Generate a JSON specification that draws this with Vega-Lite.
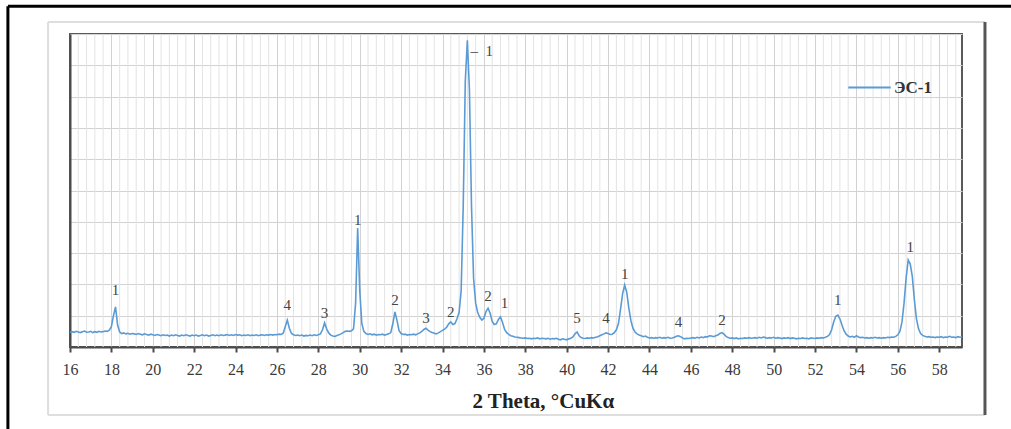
{
  "$schema": "https://vega.github.io/schema/vega-lite/v6.json",
  "autosize": {"type": "none"},
  "width": 892,
  "height": 313,
  "padding": {"left": 70, "top": 34, "right": 49, "bottom": 82},
  "background": "white",
  "config": {
    "view": {"stroke": "#5a5a5a", "strokeWidth": 2},
    "font": "Liberation Serif"
  },
  "datasets": {
    "xrd": [
      {"x":16.0,"y":4.6},{"x":16.1,"y":4.9},{"x":16.2,"y":4.7},{"x":16.3,"y":5.0},{"x":16.4,"y":4.8},{"x":16.5,"y":4.6},{"x":16.6,"y":4.9},{"x":16.7,"y":5.1},{"x":16.8,"y":4.7},{"x":16.9,"y":4.8},
      {"x":17.0,"y":5.0},{"x":17.1,"y":4.6},{"x":17.2,"y":4.9},{"x":17.3,"y":4.7},{"x":17.4,"y":5.0},{"x":17.5,"y":4.8},{"x":17.6,"y":4.9},{"x":17.7,"y":5.1},{"x":17.8,"y":5.0},{"x":17.9,"y":5.4},
      {"x":18.0,"y":6.5},{"x":18.1,"y":10.0},{"x":18.2,"y":12.8},{"x":18.3,"y":7.0},{"x":18.4,"y":4.8},{"x":18.5,"y":4.3},{"x":18.6,"y":4.5},{"x":18.7,"y":4.2},{"x":18.8,"y":4.4},{"x":18.9,"y":4.1},
      {"x":19.0,"y":4.3},{"x":19.1,"y":4.2},{"x":19.2,"y":4.0},{"x":19.3,"y":4.3},{"x":19.4,"y":4.1},{"x":19.5,"y":3.9},{"x":19.6,"y":4.2},{"x":19.7,"y":4.0},{"x":19.8,"y":3.8},{"x":19.9,"y":4.1},
      {"x":20.0,"y":3.9},{"x":20.1,"y":3.7},{"x":20.2,"y":4.0},{"x":20.3,"y":3.8},{"x":20.4,"y":3.6},{"x":20.5,"y":3.9},{"x":20.6,"y":3.7},{"x":20.7,"y":3.8},{"x":20.8,"y":3.5},{"x":20.9,"y":3.8},
      {"x":21.0,"y":3.6},{"x":21.1,"y":3.9},{"x":21.2,"y":3.7},{"x":21.3,"y":3.5},{"x":21.4,"y":3.8},{"x":21.5,"y":3.6},{"x":21.6,"y":3.9},{"x":21.7,"y":3.7},{"x":21.8,"y":3.5},{"x":21.9,"y":3.8},
      {"x":22.0,"y":3.6},{"x":22.1,"y":3.8},{"x":22.2,"y":3.5},{"x":22.3,"y":3.7},{"x":22.4,"y":3.9},{"x":22.5,"y":3.6},{"x":22.6,"y":3.8},{"x":22.7,"y":3.5},{"x":22.8,"y":3.7},{"x":22.9,"y":3.9},
      {"x":23.0,"y":3.6},{"x":23.1,"y":3.8},{"x":23.2,"y":3.6},{"x":23.3,"y":3.9},{"x":23.4,"y":3.7},{"x":23.5,"y":3.8},{"x":23.6,"y":4.0},{"x":23.7,"y":3.7},{"x":23.8,"y":3.9},{"x":23.9,"y":3.7},
      {"x":24.0,"y":4.0},{"x":24.1,"y":3.8},{"x":24.2,"y":3.9},{"x":24.3,"y":3.6},{"x":24.4,"y":3.8},{"x":24.5,"y":3.7},{"x":24.6,"y":3.9},{"x":24.7,"y":3.6},{"x":24.8,"y":3.8},{"x":24.9,"y":3.7},
      {"x":25.0,"y":3.9},{"x":25.1,"y":3.6},{"x":25.2,"y":3.8},{"x":25.3,"y":3.9},{"x":25.4,"y":3.7},{"x":25.5,"y":3.9},{"x":25.6,"y":3.8},{"x":25.7,"y":4.0},{"x":25.8,"y":3.8},{"x":25.9,"y":4.0},
      {"x":26.0,"y":3.9},{"x":26.1,"y":4.1},{"x":26.2,"y":4.0},{"x":26.3,"y":4.4},{"x":26.4,"y":6.5},{"x":26.5,"y":8.6},{"x":26.6,"y":6.0},{"x":26.7,"y":4.3},{"x":26.8,"y":3.9},{"x":26.9,"y":3.7},
      {"x":27.0,"y":3.8},{"x":27.1,"y":3.6},{"x":27.2,"y":3.8},{"x":27.3,"y":3.5},{"x":27.4,"y":3.7},{"x":27.5,"y":3.6},{"x":27.6,"y":3.8},{"x":27.7,"y":3.6},{"x":27.8,"y":3.9},{"x":27.9,"y":3.7},
      {"x":28.0,"y":3.9},{"x":28.1,"y":4.2},{"x":28.2,"y":5.5},{"x":28.3,"y":7.7},{"x":28.4,"y":5.8},{"x":28.5,"y":4.5},{"x":28.6,"y":3.8},{"x":28.7,"y":3.5},{"x":28.8,"y":3.4},{"x":28.9,"y":3.7},
      {"x":29.0,"y":3.9},{"x":29.1,"y":4.2},{"x":29.2,"y":4.6},{"x":29.3,"y":5.0},{"x":29.4,"y":5.1},{"x":29.5,"y":5.0},{"x":29.6,"y":5.2},{"x":29.7,"y":5.8},{"x":29.8,"y":14.0},{"x":29.9,"y":38.0},
      {"x":30.0,"y":18.0},{"x":30.1,"y":7.5},{"x":30.2,"y":5.0},{"x":30.3,"y":4.3},{"x":30.4,"y":4.0},{"x":30.5,"y":4.2},{"x":30.6,"y":3.9},{"x":30.7,"y":4.1},{"x":30.8,"y":3.8},{"x":30.9,"y":4.0},
      {"x":31.0,"y":3.9},{"x":31.1,"y":4.1},{"x":31.2,"y":3.8},{"x":31.3,"y":4.0},{"x":31.4,"y":4.2},{"x":31.5,"y":4.6},{"x":31.6,"y":7.5},{"x":31.7,"y":11.2},{"x":31.8,"y":8.5},{"x":31.9,"y":5.2},
      {"x":32.0,"y":4.3},{"x":32.1,"y":4.0},{"x":32.2,"y":4.1},{"x":32.3,"y":3.8},{"x":32.4,"y":4.0},{"x":32.5,"y":3.9},{"x":32.6,"y":4.1},{"x":32.7,"y":3.9},{"x":32.8,"y":4.2},{"x":32.9,"y":4.5},
      {"x":33.0,"y":5.0},{"x":33.1,"y":5.6},{"x":33.2,"y":6.0},{"x":33.3,"y":5.4},{"x":33.4,"y":4.9},{"x":33.5,"y":4.6},{"x":33.6,"y":4.4},{"x":33.7,"y":4.2},{"x":33.8,"y":4.5},{"x":33.9,"y":4.9},
      {"x":34.0,"y":5.3},{"x":34.1,"y":5.7},{"x":34.2,"y":6.3},{"x":34.3,"y":7.4},{"x":34.4,"y":8.0},{"x":34.5,"y":7.2},{"x":34.6,"y":7.5},{"x":34.7,"y":9.0},{"x":34.8,"y":11.0},{"x":34.9,"y":18.0},
      {"x":35.0,"y":45.0},{"x":35.1,"y":85.0},{"x":35.2,"y":98.0},{"x":35.3,"y":82.0},{"x":35.4,"y":45.0},{"x":35.5,"y":22.0},{"x":35.6,"y":14.0},{"x":35.7,"y":11.0},{"x":35.8,"y":9.5},{"x":35.9,"y":8.6},
      {"x":36.0,"y":9.2},{"x":36.1,"y":11.3},{"x":36.2,"y":12.4},{"x":36.3,"y":10.8},{"x":36.4,"y":8.2},{"x":36.5,"y":7.2},{"x":36.6,"y":7.4},{"x":36.7,"y":8.8},{"x":36.8,"y":9.6},{"x":36.9,"y":7.8},
      {"x":37.0,"y":5.6},{"x":37.1,"y":4.6},{"x":37.2,"y":4.0},{"x":37.3,"y":3.6},{"x":37.4,"y":3.4},{"x":37.5,"y":3.2},{"x":37.6,"y":3.1},{"x":37.7,"y":3.0},{"x":37.8,"y":2.9},{"x":37.9,"y":2.8},
      {"x":38.0,"y":2.9},{"x":38.1,"y":2.7},{"x":38.2,"y":2.8},{"x":38.3,"y":2.6},{"x":38.4,"y":2.8},{"x":38.5,"y":2.7},{"x":38.6,"y":2.9},{"x":38.7,"y":2.6},{"x":38.8,"y":2.8},{"x":38.9,"y":2.7},
      {"x":39.0,"y":2.6},{"x":39.1,"y":2.8},{"x":39.2,"y":2.5},{"x":39.3,"y":2.7},{"x":39.4,"y":2.6},{"x":39.5,"y":2.8},{"x":39.6,"y":2.5},{"x":39.7,"y":2.3},{"x":39.8,"y":2.6},{"x":39.9,"y":2.5},
      {"x":40.0,"y":2.3},{"x":40.1,"y":2.6},{"x":40.2,"y":2.8},{"x":40.3,"y":3.2},{"x":40.4,"y":4.2},{"x":40.5,"y":4.8},{"x":40.6,"y":3.6},{"x":40.7,"y":3.0},{"x":40.8,"y":2.8},{"x":40.9,"y":2.7},
      {"x":41.0,"y":2.9},{"x":41.1,"y":2.8},{"x":41.2,"y":3.0},{"x":41.3,"y":2.9},{"x":41.4,"y":3.1},{"x":41.5,"y":3.3},{"x":41.6,"y":3.6},{"x":41.7,"y":3.9},{"x":41.8,"y":4.2},{"x":41.9,"y":4.5},
      {"x":42.0,"y":4.3},{"x":42.1,"y":4.0},{"x":42.2,"y":4.1},{"x":42.3,"y":4.6},{"x":42.4,"y":5.5},{"x":42.5,"y":7.5},{"x":42.6,"y":12.0},{"x":42.7,"y":17.0},{"x":42.8,"y":19.8},{"x":42.9,"y":17.5},
      {"x":43.0,"y":12.5},{"x":43.1,"y":8.5},{"x":43.2,"y":6.0},{"x":43.3,"y":4.8},{"x":43.4,"y":4.2},{"x":43.5,"y":3.8},{"x":43.6,"y":3.6},{"x":43.7,"y":3.3},{"x":43.8,"y":3.5},{"x":43.9,"y":3.1},
      {"x":44.0,"y":2.9},{"x":44.1,"y":3.0},{"x":44.2,"y":2.8},{"x":44.3,"y":3.0},{"x":44.4,"y":2.9},{"x":44.5,"y":3.1},{"x":44.6,"y":2.8},{"x":44.7,"y":3.0},{"x":44.8,"y":2.9},{"x":44.9,"y":3.1},
      {"x":45.0,"y":2.8},{"x":45.1,"y":2.9},{"x":45.2,"y":3.1},{"x":45.3,"y":3.4},{"x":45.4,"y":3.6},{"x":45.5,"y":3.3},{"x":45.6,"y":2.9},{"x":45.7,"y":2.6},{"x":45.8,"y":2.8},{"x":45.9,"y":2.7},
      {"x":46.0,"y":2.9},{"x":46.1,"y":3.0},{"x":46.2,"y":2.8},{"x":46.3,"y":3.1},{"x":46.4,"y":2.9},{"x":46.5,"y":3.2},{"x":46.6,"y":3.0},{"x":46.7,"y":3.3},{"x":46.8,"y":3.2},{"x":46.9,"y":3.6},
      {"x":47.0,"y":3.5},{"x":47.1,"y":3.3},{"x":47.2,"y":3.6},{"x":47.3,"y":3.8},{"x":47.4,"y":4.3},{"x":47.5,"y":4.6},{"x":47.6,"y":4.1},{"x":47.7,"y":3.4},{"x":47.8,"y":3.0},{"x":47.9,"y":2.8},
      {"x":48.0,"y":2.9},{"x":48.1,"y":2.7},{"x":48.2,"y":2.9},{"x":48.3,"y":2.6},{"x":48.4,"y":2.8},{"x":48.5,"y":2.7},{"x":48.6,"y":2.9},{"x":48.7,"y":2.8},{"x":48.8,"y":3.0},{"x":48.9,"y":2.8},
      {"x":49.0,"y":2.9},{"x":49.1,"y":3.0},{"x":49.2,"y":2.8},{"x":49.3,"y":3.1},{"x":49.4,"y":2.9},{"x":49.5,"y":3.2},{"x":49.6,"y":3.0},{"x":49.7,"y":2.8},{"x":49.8,"y":3.0},{"x":49.9,"y":2.9},
      {"x":50.0,"y":3.1},{"x":50.1,"y":2.8},{"x":50.2,"y":3.0},{"x":50.3,"y":2.9},{"x":50.4,"y":2.7},{"x":50.5,"y":2.9},{"x":50.6,"y":2.8},{"x":50.7,"y":3.0},{"x":50.8,"y":2.7},{"x":50.9,"y":2.9},
      {"x":51.0,"y":2.8},{"x":51.1,"y":2.6},{"x":51.2,"y":2.8},{"x":51.3,"y":2.7},{"x":51.4,"y":2.9},{"x":51.5,"y":2.7},{"x":51.6,"y":2.8},{"x":51.7,"y":2.6},{"x":51.8,"y":2.9},{"x":51.9,"y":2.8},
      {"x":52.0,"y":2.7},{"x":52.1,"y":2.9},{"x":52.2,"y":2.8},{"x":52.3,"y":3.0},{"x":52.4,"y":2.9},{"x":52.5,"y":3.1},{"x":52.6,"y":3.4},{"x":52.7,"y":4.0},{"x":52.8,"y":5.5},{"x":52.9,"y":8.0},
      {"x":53.0,"y":9.8},{"x":53.1,"y":10.2},{"x":53.2,"y":9.0},{"x":53.3,"y":7.0},{"x":53.4,"y":5.2},{"x":53.5,"y":4.1},{"x":53.6,"y":3.5},{"x":53.7,"y":3.2},{"x":53.8,"y":3.4},{"x":53.9,"y":3.1},
      {"x":54.0,"y":3.6},{"x":54.1,"y":3.2},{"x":54.2,"y":3.0},{"x":54.3,"y":3.1},{"x":54.4,"y":2.9},{"x":54.5,"y":3.0},{"x":54.6,"y":2.8},{"x":54.7,"y":3.0},{"x":54.8,"y":2.9},{"x":54.9,"y":3.1},
      {"x":55.0,"y":2.9},{"x":55.1,"y":3.0},{"x":55.2,"y":2.8},{"x":55.3,"y":3.0},{"x":55.4,"y":2.9},{"x":55.5,"y":3.1},{"x":55.6,"y":3.0},{"x":55.7,"y":3.2},{"x":55.8,"y":3.1},{"x":55.9,"y":3.4},
      {"x":56.0,"y":3.9},{"x":56.1,"y":5.0},{"x":56.2,"y":8.0},{"x":56.3,"y":14.0},{"x":56.4,"y":22.0},{"x":56.5,"y":27.8},{"x":56.6,"y":26.5},{"x":56.7,"y":22.5},{"x":56.8,"y":15.0},{"x":56.9,"y":9.0},
      {"x":57.0,"y":5.8},{"x":57.1,"y":4.3},{"x":57.2,"y":3.7},{"x":57.3,"y":3.4},{"x":57.4,"y":3.2},{"x":57.5,"y":3.3},{"x":57.6,"y":3.1},{"x":57.7,"y":3.2},{"x":57.8,"y":3.0},{"x":57.9,"y":3.2},
      {"x":58.0,"y":3.1},{"x":58.1,"y":3.3},{"x":58.2,"y":3.0},{"x":58.3,"y":3.2},{"x":58.4,"y":3.1},{"x":58.5,"y":3.4},{"x":58.6,"y":3.1},{"x":58.7,"y":3.2},{"x":58.8,"y":3.0},{"x":58.9,"y":3.3},
      {"x":59.0,"y":3.1},{"x":59.1,"y":3.2}
    ],
    "labels": [
      {"x":18.2,"y":18.2,"t":"1"},
      {"x":26.5,"y":13.4,"t":"4"},
      {"x":28.3,"y":10.9,"t":"3"},
      {"x":29.9,"y":40.6,"t":"1"},
      {"x":31.7,"y":15.0,"t":"2"},
      {"x":33.2,"y":9.3,"t":"3"},
      {"x":34.4,"y":11.2,"t":"2"},
      {"x":36.2,"y":16.3,"t":"2"},
      {"x":37.0,"y":14.0,"t":"1"},
      {"x":40.5,"y":9.3,"t":"5"},
      {"x":41.9,"y":9.3,"t":"4"},
      {"x":42.8,"y":23.3,"t":"1"},
      {"x":45.4,"y":8.0,"t":"4"},
      {"x":47.5,"y":8.6,"t":"2"},
      {"x":53.1,"y":15.0,"t":"1"},
      {"x":56.6,"y":32.0,"t":"1"}
    ],
    "toplabel": [{"x":35.35,"y":94.6,"t":"–\u00a0\u00a01"}],
    "minor": [
      {"x":16.4},{"x":16.8},{"x":17.2},{"x":17.6},{"x":18.4},{"x":18.8},{"x":19.2},{"x":19.6},
      {"x":20.4},{"x":20.8},{"x":21.2},{"x":21.6},{"x":22.4},{"x":22.8},{"x":23.2},{"x":23.6},
      {"x":24.4},{"x":24.8},{"x":25.2},{"x":25.6},{"x":26.4},{"x":26.8},{"x":27.2},{"x":27.6},
      {"x":28.4},{"x":28.8},{"x":29.2},{"x":29.6},{"x":30.4},{"x":30.8},{"x":31.2},{"x":31.6},
      {"x":32.4},{"x":32.8},{"x":33.2},{"x":33.6},{"x":34.4},{"x":34.8},{"x":35.2},{"x":35.6},
      {"x":36.4},{"x":36.8},{"x":37.2},{"x":37.6},{"x":38.4},{"x":38.8},{"x":39.2},{"x":39.6},
      {"x":40.4},{"x":40.8},{"x":41.2},{"x":41.6},{"x":42.4},{"x":42.8},{"x":43.2},{"x":43.6},
      {"x":44.4},{"x":44.8},{"x":45.2},{"x":45.6},{"x":46.4},{"x":46.8},{"x":47.2},{"x":47.6},
      {"x":48.4},{"x":48.8},{"x":49.2},{"x":49.6},{"x":50.4},{"x":50.8},{"x":51.2},{"x":51.6},
      {"x":52.4},{"x":52.8},{"x":53.2},{"x":53.6},{"x":54.4},{"x":54.8},{"x":55.2},{"x":55.6},
      {"x":56.4},{"x":56.8},{"x":57.2},{"x":57.6},{"x":58.4},{"x":58.8}
    ],
    "outerBlack": [
      {"x":13.0,"x2":13.0,"y":108.9,"y2":-26.2},
      {"x":13.0,"x2":61.5,"y":108.9,"y2":108.9}
    ],
    "outerGray": [
      {"x":60.21,"x2":60.21,"y":103.8,"y2":-21.7}
    ],
    "outerLight": [
      {"x":14.94,"x2":14.94,"y":103.8,"y2":-21.7},
      {"x":14.94,"x2":60.21,"y":103.8,"y2":103.8},
      {"x":14.94,"x2":60.21,"y":-21.7,"y2":-21.7}
    ]
  },
  "encoding": {
    "x": {
      "field": "x", "type": "quantitative",
      "scale": {"domain": [16, 59.1], "nice": false, "zero": false},
      "axis": {
        "values": [16,18,20,22,24,26,28,30,32,34,36,38,40,42,44,46,48,50,52,54,56,58],
        "grid": true, "gridColor": "#d2d2d2", "gridWidth": 1,
        "domainColor": "#4a4a4a", "domainWidth": 2,
        "tickColor": "#4a4a4a", "tickSize": 5, "tickWidth": 2,
        "labelFont": "Liberation Serif", "labelFontSize": 16, "labelColor": "#3a3a3a", "labelPadding": 9,
        "labelFlush": false,
        "title": "2 Theta, °CuKα",
        "titleFont": "Liberation Serif", "titleFontSize": 21, "titleFontWeight": "bold", "titleColor": "#222222",
        "titlePadding": 13, "titleX": 402, "titleAlign": "left"
      }
    }
  },
  "layer": [
    {
      "data": {"name": "minor"},
      "mark": {"type": "rule", "color": "#e3e3e3", "strokeWidth": 1},
      "encoding": {}
    },
    {
      "data": {"name": "outerLight"},
      "mark": {"type": "rule", "color": "#dedede", "strokeWidth": 2, "clip": false},
      "encoding": {
        "x2": {"field": "x2"},
        "y": {"field": "y", "type": "quantitative", "scale": {"domain": [0, 100], "nice": false},
          "axis": {"values": [0,10,20,30,40,50,60,70,80,90,100], "grid": true, "gridColor": "#d2d2d2", "gridWidth": 1.2, "labels": false, "ticks": false, "title": null, "domainColor": "#4a4a4a", "domainWidth": 2}},
        "y2": {"field": "y2"}
      }
    },
    {
      "data": {"name": "outerGray"},
      "mark": {"type": "rule", "color": "#555555", "strokeWidth": 3, "clip": false},
      "encoding": {
        "x2": {"field": "x2"},
        "y": {"field": "y", "type": "quantitative", "scale": {"domain": [0, 100], "nice": false},
          "axis": {"values": [0,10,20,30,40,50,60,70,80,90,100], "grid": true, "gridColor": "#d2d2d2", "gridWidth": 1.2, "labels": false, "ticks": false, "title": null, "domainColor": "#4a4a4a", "domainWidth": 2}},
        "y2": {"field": "y2"}
      }
    },
    {
      "data": {"name": "outerBlack"},
      "mark": {"type": "rule", "color": "#000000", "strokeWidth": 3, "clip": false},
      "encoding": {
        "x2": {"field": "x2"},
        "y": {"field": "y", "type": "quantitative", "scale": {"domain": [0, 100], "nice": false},
          "axis": {"values": [0,10,20,30,40,50,60,70,80,90,100], "grid": true, "gridColor": "#d2d2d2", "gridWidth": 1.2, "labels": false, "ticks": false, "title": null, "domainColor": "#4a4a4a", "domainWidth": 2}},
        "y2": {"field": "y2"}
      }
    },
    {
      "data": {"name": "xrd"},
      "mark": {"type": "line", "strokeWidth": 1.6, "interpolate": "linear"},
      "encoding": {
        "y": {"field": "y", "type": "quantitative", "scale": {"domain": [0, 100], "nice": false},
          "axis": {"values": [0,10,20,30,40,50,60,70,80,90,100], "grid": true, "gridColor": "#d2d2d2", "gridWidth": 1.2, "labels": false, "ticks": false, "title": null, "domainColor": "#4a4a4a", "domainWidth": 2}},
        "color": {
          "datum": "ЭС-1",
          "type": "nominal",
          "scale": {"range": ["#5b9bd5"]},
          "legend": {
            "title": null,
            "orient": "none",
            "legendX": 777,
            "legendY": 31,
            "symbolType": "stroke",
            "symbolSize": 1800,
            "symbolStrokeWidth": 2,
            "labelFont": "Liberation Serif",
            "labelFontSize": 17,
            "labelFontWeight": "bold",
            "labelColor": "#333333",
            "labelOffset": 2
          }
        }
      }
    },
    {
      "data": {"name": "labels"},
      "mark": {"type": "text", "font": "Liberation Serif", "fontSize": 15, "color": "#444444", "baseline": "middle", "align": "center"},
      "encoding": {
        "y": {"field": "y", "type": "quantitative", "scale": {"domain": [0, 100], "nice": false},
          "axis": {"values": [0,10,20,30,40,50,60,70,80,90,100], "grid": true, "gridColor": "#d2d2d2", "gridWidth": 1.2, "labels": false, "ticks": false, "title": null, "domainColor": "#4a4a4a", "domainWidth": 2}},
        "text": {"field": "t"}
      }
    },
    {
      "data": {"name": "toplabel"},
      "mark": {"type": "text", "font": "Liberation Serif", "fontSize": 15, "color": "#444444", "baseline": "middle", "align": "left"},
      "encoding": {
        "y": {"field": "y", "type": "quantitative", "scale": {"domain": [0, 100], "nice": false},
          "axis": {"values": [0,10,20,30,40,50,60,70,80,90,100], "grid": true, "gridColor": "#d2d2d2", "gridWidth": 1.2, "labels": false, "ticks": false, "title": null, "domainColor": "#4a4a4a", "domainWidth": 2}},
        "text": {"field": "t"}
      }
    }
  ]
}
